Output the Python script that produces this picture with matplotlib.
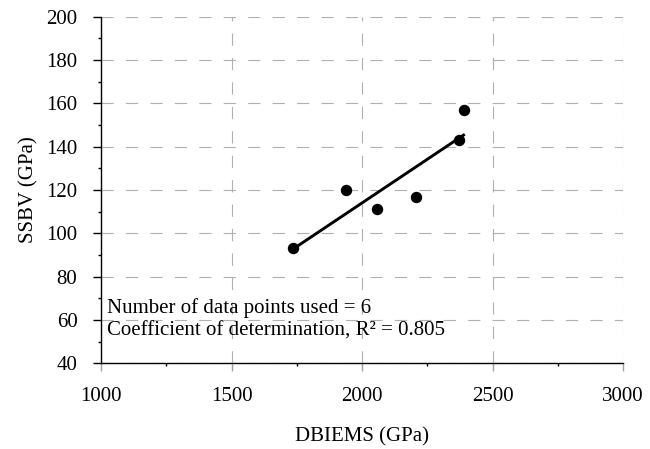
import numpy as np
import matplotlib
matplotlib.use("Agg")
import matplotlib.pyplot as plt
from matplotlib.ticker import MultipleLocator

plt.rcParams['font.family'] = ['Liberation Serif', 'DejaVu Serif']

# DBIEMS vs SSBV values
dbiems = np.array([1737, 1937, 2059, 2208, 2371, 2389])
ssbv = np.array([93.1, 119.8, 111.2, 116.6, 143.1, 156.8])

info_lines = ["Number of data points used = 6",
              "Coefficient of determination, R\u00b2 = 0.805"]

fig = plt.figure(figsize=(6.5, 4.49), dpi=100)
ax = fig.add_axes([0.1554, 0.1909, 0.8031, 0.7719])

# least squares fit
k, b = np.polyfit(dbiems, ssbv, 1)
xf = np.array([dbiems.min(), dbiems.max()])
ax.plot(xf, k*xf + b, color='black', lw=2.1, zorder=3)
ax.plot(dbiems, ssbv, 'o', color='black', ms=7.2, zorder=4)

ax.set_xlim(1000, 3000)
ax.set_ylim(40, 200)
ax.xaxis.set_major_locator(MultipleLocator(500))
ax.xaxis.set_minor_locator(MultipleLocator(250))
ax.yaxis.set_major_locator(MultipleLocator(20))
ax.yaxis.set_minor_locator(MultipleLocator(10))

ax.grid(True, which='major', color='#b0b0b0', ls=(0, (11, 11)), lw=0.8)
ax.set_axisbelow(True)
for s in ['top', 'right']:
    ax.spines[s].set_visible(False)
for s in ['left', 'bottom']:
    ax.spines[s].set_linewidth(1.0)

ax.tick_params(which='major', direction='out', length=6, width=1.0,
               labelsize=15, pad=11)
ax.tick_params(axis='x', which='major', color='#a0a0a0')
ax.tick_params(which='minor', direction='out', length=2.5, width=1.0)

ax.set_xlabel("DBIEMS (GPa)", fontsize=15, labelpad=15.5)
ax.set_ylabel("SSBV (GPa)", fontsize=15, labelpad=5.5)

ax.text(0.011, 0.127, "\n".join(info_lines), transform=ax.transAxes,
        fontsize=15, va='center', ha='left', linespacing=1.2)

fig.savefig("out.png", dpi=100)
